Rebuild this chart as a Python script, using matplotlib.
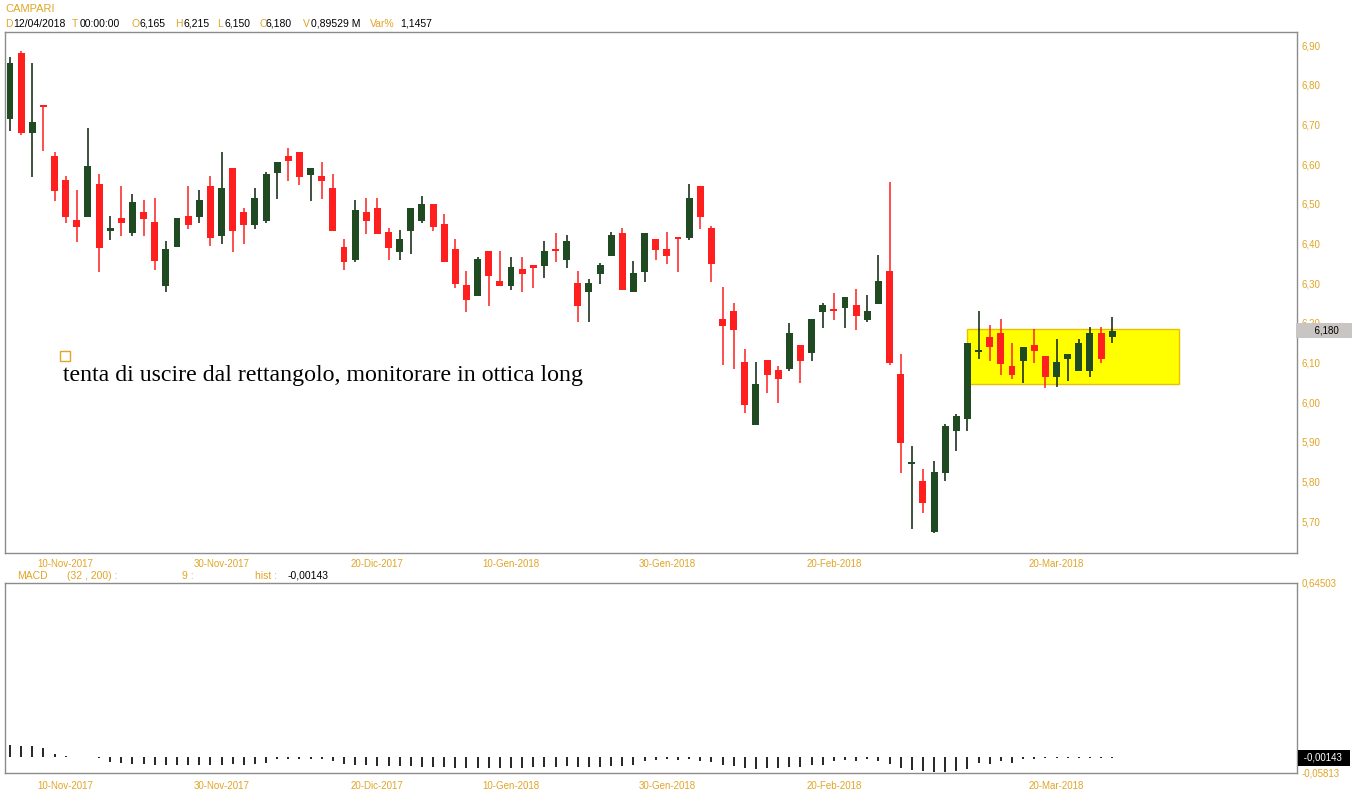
import numpy as np
import matplotlib
matplotlib.use("Agg")
import matplotlib.pyplot as plt
from matplotlib.patches import Rectangle

plt.rcParams['font.family'] = ['Liberation Sans', 'DejaVu Sans']

# daily candles, CAMPARI (Nov 2017 - Apr 2018)
opens = [6.714, 6.880, 6.679, 6.746, 6.620, 6.560, 6.459, 6.467, 6.550, 6.432,
         6.464, 6.427, 6.479, 6.454, 6.292, 6.390, 6.469, 6.467, 6.545, 6.419,
         6.590, 6.479, 6.447, 6.457, 6.578, 6.620, 6.630, 6.573, 6.570, 6.540,
         6.391, 6.358, 6.479, 6.489, 6.429, 6.378, 6.432, 6.457, 6.499, 6.449,
         6.386, 6.295, 6.268, 6.381, 6.305, 6.293, 6.335, 6.345, 6.344, 6.382,
         6.359, 6.300, 6.278, 6.323, 6.369, 6.426, 6.278, 6.329, 6.411, 6.386,
         6.416, 6.413, 6.545, 6.439, 6.209, 6.229, 6.101, 5.943, 6.106, 6.081,
         6.083, 6.144, 6.124, 6.228, 6.231, 6.238, 6.245, 6.208, 6.248, 6.330,
         6.071, 5.845, 5.802, 5.672, 5.820, 5.928, 5.958, 6.125, 6.163, 6.173,
         6.091, 6.104, 6.143, 6.116, 6.064, 6.109, 6.079, 6.079, 6.173, 6.165]
highs = [6.870, 6.885, 6.855, 6.749, 6.630, 6.570, 6.534, 6.690, 6.575, 6.469,
         6.545, 6.524, 6.509, 6.514, 6.406, 6.464, 6.545, 6.534, 6.570, 6.630,
         6.590, 6.489, 6.540, 6.580, 6.605, 6.640, 6.630, 6.590, 6.605, 6.575,
         6.411, 6.509, 6.514, 6.514, 6.439, 6.434, 6.489, 6.519, 6.499, 6.474,
         6.411, 6.330, 6.366, 6.381, 6.381, 6.366, 6.366, 6.345, 6.406, 6.426,
         6.421, 6.330, 6.310, 6.350, 6.429, 6.439, 6.355, 6.426, 6.411, 6.429,
         6.416, 6.550, 6.545, 6.444, 6.290, 6.250, 6.133, 6.101, 6.106, 6.091,
         6.199, 6.144, 6.209, 6.250, 6.275, 6.265, 6.285, 6.270, 6.370, 6.555,
         6.121, 5.889, 5.832, 5.852, 5.945, 5.970, 6.149, 6.229, 6.193, 6.209,
         6.148, 6.138, 6.183, 6.116, 6.158, 6.121, 6.158, 6.188, 6.188, 6.215]
lows = [6.684, 6.674, 6.568, 6.634, 6.507, 6.452, 6.404, 6.467, 6.329, 6.408,
        6.419, 6.419, 6.419, 6.333, 6.278, 6.390, 6.437, 6.452, 6.394, 6.399,
        6.379, 6.399, 6.437, 6.452, 6.513, 6.558, 6.548, 6.507, 6.513, 6.432,
        6.333, 6.354, 6.424, 6.424, 6.358, 6.358, 6.373, 6.452, 6.432, 6.354,
        6.288, 6.228, 6.268, 6.243, 6.293, 6.283, 6.278, 6.288, 6.313, 6.354,
        6.339, 6.203, 6.203, 6.298, 6.369, 6.283, 6.278, 6.303, 6.359, 6.349,
        6.329, 6.408, 6.437, 6.303, 6.094, 6.084, 5.973, 5.943, 6.024, 5.998,
        6.078, 6.049, 6.104, 6.187, 6.208, 6.187, 6.182, 6.203, 6.248, 6.094,
        5.820, 5.679, 5.719, 5.669, 5.800, 5.877, 5.928, 6.109, 6.104, 6.069,
        6.059, 6.049, 6.099, 6.035, 6.039, 6.054, 6.079, 6.064, 6.099, 6.150]
closes = [6.855, 6.679, 6.706, 6.744, 6.533, 6.467, 6.442, 6.595, 6.389, 6.440,
          6.452, 6.504, 6.462, 6.355, 6.386, 6.464, 6.447, 6.509, 6.414, 6.540,
          6.432, 6.447, 6.514, 6.575, 6.605, 6.608, 6.568, 6.590, 6.558, 6.432,
          6.354, 6.484, 6.457, 6.424, 6.388, 6.411, 6.489, 6.499, 6.442, 6.354,
          6.298, 6.258, 6.361, 6.318, 6.293, 6.340, 6.323, 6.339, 6.381, 6.380,
          6.406, 6.243, 6.300, 6.345, 6.421, 6.283, 6.325, 6.426, 6.384, 6.369,
          6.410, 6.514, 6.467, 6.349, 6.192, 6.182, 5.993, 6.045, 6.069, 6.059,
          6.174, 6.104, 6.209, 6.245, 6.229, 6.265, 6.218, 6.229, 6.305, 6.099,
          5.897, 5.848, 5.745, 5.824, 5.940, 5.965, 6.149, 6.128, 6.138, 6.096,
          6.069, 6.138, 6.128, 6.064, 6.101, 6.121, 6.150, 6.173, 6.109, 6.180]

# MACD (32, 200) signal 9 histogram
hist = [0.045, 0.043, 0.040, 0.036, 0.014, 0.006, 0.002, 0.001, -0.004, -0.018,
        -0.022, -0.024, -0.026, -0.028, -0.030, -0.028, -0.027, -0.029, -0.030, -0.028,
        -0.026, -0.027, -0.026, -0.020, -0.008, -0.007, -0.006, -0.008, -0.007, -0.012,
        -0.024, -0.028, -0.030, -0.032, -0.033, -0.034, -0.033, -0.035, -0.036, -0.037,
        -0.038, -0.040, -0.041, -0.040, -0.039, -0.040, -0.038, -0.037, -0.036, -0.035,
        -0.034, -0.036, -0.037, -0.035, -0.033, -0.032, -0.030, -0.012, -0.009, -0.008,
        -0.010, -0.008, -0.012, -0.016, -0.028, -0.034, -0.040, -0.042, -0.040, -0.038,
        -0.036, -0.035, -0.030, -0.028, -0.015, -0.010, -0.012, -0.008, -0.014, -0.025,
        -0.040, -0.048, -0.052, -0.056, -0.054, -0.050, -0.044, -0.020, -0.026, -0.012,
        -0.022, -0.006, -0.005, -0.004, -0.004, -0.003, -0.003, -0.002, -0.002, -0.00143]

date_pos = [5, 19, 33, 45, 59, 74, 94]
date_labels = ['10-Nov-2017', '30-Nov-2017', '20-Dic-2017', '10-Gen-2018',
               '30-Gen-2018', '20-Feb-2018', '20-Mar-2018']
price_ticks = [5.70, 5.80, 5.90, 6.00, 6.10, 6.20, 6.30, 6.40, 6.50, 6.60, 6.70, 6.80, 6.90]

# rettangolo di congestione
rect_x = [86.0, 105.0]
rect_y = [6.045, 6.183]

orange = '#e0a526'
red = '#ff1f1f'
green = '#1f4a22'
border = '#8c8c8c'

W, H = 1352, 800
fig = plt.figure(figsize=(W / 100, H / 100), dpi=100)


def px_axes(left, top, right, bottom):
    return fig.add_axes([left / W, 1 - bottom / H, (right - left) / W, (bottom - top) / H])


ax = px_axes(5, 32, 1297, 553)
ax2 = px_axes(5, 583, 1297, 773)

x = np.arange(len(closes))
o = np.array(opens)
c = np.array(closes)
up = c >= o
colors = np.where(up, green, red)
wick_colors = np.where(up, '#0a200a', red)

ax.add_patch(Rectangle((rect_x[0], rect_y[0]), rect_x[1] - rect_x[0], rect_y[1] - rect_y[0],
                       facecolor='#ffff00', edgecolor='#e8c000', lw=1, zorder=1))
ax.vlines(x, lows, highs, colors=wick_colors, lw=1.1, zorder=2)
body_h = np.maximum(np.abs(c - o), 0.005)
ax.bar(x, body_h, bottom=np.minimum(o, c), width=0.62, color=colors, zorder=3)

ax.set_xlim(-0.45, 115.6)
ax.set_ylim(5.6194, 6.933)
ax2.set_xlim(-0.45, 115.6)
ax2.set_ylim(-0.05813, 0.64503)

ax2.vlines(x, 0, hist, colors='black', lw=1.2)

for a in (ax, ax2):
    for s in a.spines.values():
        s.set_color(border)
        s.set_linewidth(1)
    a.yaxis.tick_right()
    a.set_xticks(date_pos)
    a.set_xticklabels(date_labels)

ax.tick_params(axis='x', length=0, pad=4, labelsize=7, labelcolor=orange)
ax2.tick_params(axis='x', length=0, pad=6, labelsize=7, labelcolor=orange)
ax.set_yticks(price_ticks)
ax.set_yticklabels([f'{v:.2f}'.replace('.', ',') for v in price_ticks])
ax.tick_params(axis='y', length=0, pad=3, labelsize=7, labelcolor=orange)
ax2.set_yticks([-0.05813, 0.64503])
ax2.set_yticklabels(['-0,05813', '0,64503'])
ax2.tick_params(axis='y', length=0, pad=3, labelsize=7, labelcolor=orange)

# last price tags
ax.annotate('      6,180    ', xy=(1.001, closes[-1]), xycoords=('axes fraction', 'data'),
            va='center', ha='left', fontsize=7, color='black', annotation_clip=False,
            bbox=dict(boxstyle='square,pad=0.25', fc='#c8c5c2', ec='none'), zorder=5)
ax2.annotate(' -0,00143  ', xy=(1.003, hist[-1]), xycoords=('axes fraction', 'data'),
             va='center', ha='left', fontsize=7, color='white', annotation_clip=False,
             bbox=dict(boxstyle='square,pad=0.3', fc='black', ec='none'), zorder=5)

# annotation
ax.plot([4.95], [6.116], marker='s', ms=7, mfc='none', mec=orange, mew=1)
ax.text(4.75, 6.068, 'tenta di uscire dal rettangolo, monitorare in ottica long',
        family=['Liberation Serif', 'DejaVu Serif'], fontsize=17.2, va='center', ha='left')

# header
fig.text(5 / W, 1 - 12 / H, 'CAMPARI', color=orange, fontsize=8, va='baseline', ha='left')
header = [('D', 5, orange), ('12/04/2018', 13, 'black'), ('T', 72, orange), ('00:00:00', 80, 'black'),
          ('O', 132, orange), ('6,165', 140, 'black'), ('H', 175, orange), ('6,215', 183, 'black'),
          ('L', 217, orange), ('6,150', 224, 'black'), ('C', 259, orange), ('6,180', 266, 'black'),
          ('V', 303, orange), ('0,89529 M', 311, 'black'), ('Var%', 370, orange), ('1,1457', 400, 'black')]
for txt, px, col in header:
    fig.text(px / W, 1 - 27 / H, txt, color=col, fontsize=7.5, va='baseline', ha='left')

macd_hdr = [('MACD', 17, orange), ('(32 , 200) :', 67, orange), ('9 :', 182, orange),
            ('hist :', 255, orange), ('-0,00143', 288, 'black')]
for txt, px, col in macd_hdr:
    fig.text(px / W, 1 - 579 / H, txt, color=col, fontsize=7.5, va='baseline', ha='left')

fig.savefig('out.png', dpi=100, facecolor='white')
